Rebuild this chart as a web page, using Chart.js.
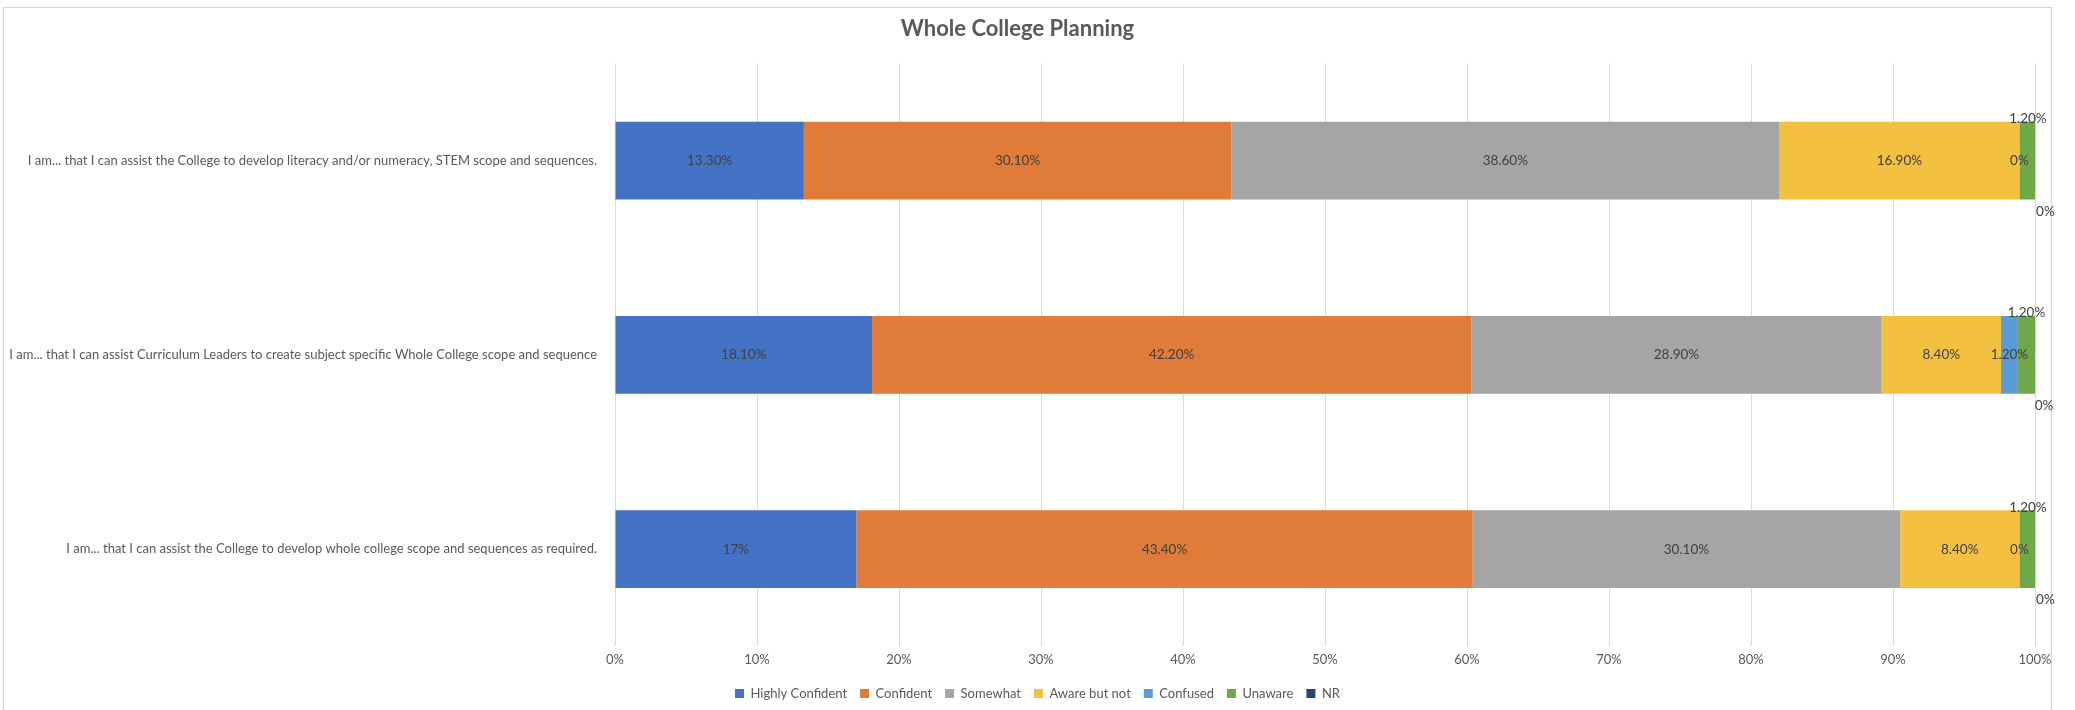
<!DOCTYPE html>
<html>
<head>
<meta charset="utf-8">
<script src="https://cdn.jsdelivr.net/npm/chart.js@4.4.1/dist/chart.umd.min.js"></script>
<style>
  html, body { margin: 0; padding: 0; background: #fff; }
  #wrap { position: relative; width: 2075px; height: 710px; overflow: hidden; }
  #frame { position: absolute; left: 3px; top: 7px; width: 2047px; height: 720px; border: 1px solid #d4d4d4; }
  #chart { position: absolute; left: 0; top: 0; }
</style>
</head>
<body>
<div id="wrap">
  <div id="frame"></div>
  <canvas id="chart" width="2075" height="710"></canvas>
</div>
<script>
// ====== DATA ======
const questions = [
    'I am... that I can assist the College to develop literacy and/or numeracy, STEM scope and sequences.',
    'I am... that I can assist Curriculum Leaders to create subject specific Whole College scope and sequence',
    'I am... that I can assist the College to develop whole college scope and sequences as required.'
];
const seriesNames = ['Highly Confident', 'Confident', 'Somewhat', 'Aware but not', 'Confused', 'Unaware', 'NR'];
const highlyConfident = [13.3, 18.1, 17];
const confident = [30.1, 42.2, 43.4];
const somewhat = [38.6, 28.9, 30.1];
const awareButNot = [16.9, 8.4, 8.4];
const confused = [0, 1.2, 0];
const unaware = [1.2, 1.2, 1.2];
const noResponse = [0, 0, 0];
const xTicks = [0, 10, 20, 30, 40, 50, 60, 70, 80, 90, 100];

const colors = ['#4472c4', '#e07b39', '#a5a5a5', '#f4c040', '#5b9bd5', '#6fa84a', '#264478'];
const seriesValues = [highlyConfident, confident, somewhat, awareButNot, confused, unaware, noResponse];

const fmt = v => (Number.isInteger(v) ? v : v.toFixed(2)) + '%';

// etiquetas sobre las barras, estilo Excel
const labelPlugin = {
    id: 'barLabels',
    afterLayout(chart) {
        // centrar la leyenda en todo el lienzo, no sólo en el área sin padding
        if (chart.legend) {
            chart.legend.left += 20;
            chart.legend.right += 20;
        }
    },
    afterDatasetsDraw(chart) {
        const ctx = chart.ctx;
        ctx.save();
        ctx.font = '13.5px Lato, "Open Sans", sans-serif';
        ctx.fillStyle = '#404040';
        ctx.textAlign = 'center';
        ctx.textBaseline = 'middle';
        chart.data.datasets.forEach((ds, i) => {
            const meta = chart.getDatasetMeta(i);
            meta.data.forEach((bar, j) => {
                const v = ds.data[j];
                const h = bar.height;
                let x = (bar.x + bar.base) / 2;
                let y = bar.y;
                if (i === 5) {
                    y = bar.y - h / 2 - 3;
                } else if (i === 6) {
                    x = bar.x + 9;
                    y = bar.y + h / 2 + 12;
                }
                ctx.fillText(fmt(v), x, y);
            });
        });
        ctx.restore();
    }
};

const datasets = seriesNames.map((name, i) => ({
    label: name,
    data: seriesValues[i],
    backgroundColor: colors[i],
    borderWidth: 0,
    barPercentage: 0.4,
    categoryPercentage: 1
}));

new Chart(document.getElementById('chart').getContext('2d'), {
    type: 'bar',
    data: { labels: questions, datasets: datasets },
    plugins: [labelPlugin],
    options: {
        indexAxis: 'y',
        responsive: false,
        animation: false,
        layout: { padding: { left: 0, right: 40, top: 0, bottom: 0 } },
        scales: {
            x: {
                stacked: true,
                min: 0,
                max: 100,
                afterBuildTicks: axis => { axis.ticks = xTicks.map(v => ({ value: v })); },
                ticks: {
                    callback: v => v + '%',
                    color: '#595959',
                    font: { size: 13, family: 'Lato, "Open Sans", sans-serif' },
                    padding: 6
                },
                grid: { color: '#d9d9d9', drawTicks: false },
                border: { display: false }
            },
            y: {
                stacked: true,
                afterFit: axis => { axis.width = 615; },
                ticks: {
                    color: '#595959',
                    font: { size: 13, family: 'Lato, "Open Sans", sans-serif' },
                    padding: 10
                },
                grid: { display: false },
                border: { display: false }
            }
        },
        plugins: {
            title: {
                display: true,
                text: 'Whole College Planning',
                color: '#595959',
                font: { size: 22, weight: 'bold', family: 'Lato, "Open Sans", sans-serif' },
                padding: { top: 16, bottom: 21 }
            },
            legend: {
                position: 'bottom',
                labels: {
                    boxWidth: 9,
                    boxHeight: 9,
                    padding: 13,
                    color: '#595959',
                    font: { size: 13, family: 'Lato, "Open Sans", sans-serif' }
                }
            },
            tooltip: { enabled: false }
        }
    }
});
</script>
</body>
</html>
